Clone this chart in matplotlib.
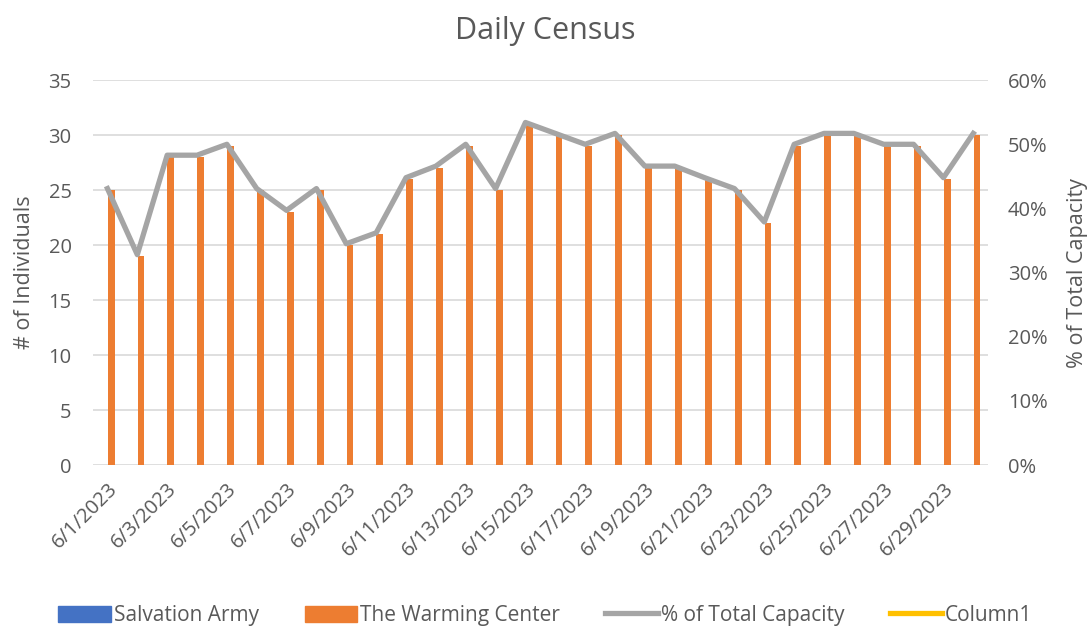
import matplotlib.pyplot as plt
from matplotlib.patches import Patch
from matplotlib.lines import Line2D
from matplotlib.ticker import PercentFormatter

plt.rcParams['font.family'] = ['Open Sans', 'DejaVu Sans']

days = [f"6/{d}/2023" for d in range(1, 31)]
salvation = [0, 0, 0, 0, 0, 0, 0, 0, 0, 0, 0, 0, 0, 0, 0,
             0, 0, 0, 0, 0, 0, 0, 0, 0, 0, 0, 0, 0, 0, 0]
warming = [25, 19, 28, 28, 29, 25, 23, 25, 20, 21, 26, 27, 29, 25, 31,
           30, 29, 30, 27, 27, 26, 25, 22, 29, 30, 30, 29, 29, 26, 30]
capacity = [0.431, 0.328, 0.483, 0.483, 0.500, 0.431, 0.397, 0.431, 0.345, 0.362,
            0.448, 0.466, 0.500, 0.431, 0.534, 0.517, 0.500, 0.517, 0.466, 0.466,
            0.448, 0.431, 0.379, 0.500, 0.517, 0.517, 0.500, 0.500, 0.448, 0.517]

blue = '#4472C4'
orange = '#ED7D31'
gray = '#A5A5A5'
yellow = '#FFC000'
txt = '#595959'
fs = 14.5

fig = plt.figure(figsize=(10.91, 6.26), dpi=100)
ax = fig.add_axes([0.0848, 0.257, 0.821, 0.615])
x = list(range(len(days)))
w = 0.23
ax.bar([i - 0.125 for i in x], salvation, width=w, color=blue, linewidth=0)
ax.bar([i + 0.125 for i in x], warming, width=w, color=orange, linewidth=0)
ax.set_xlim(-0.5, len(days) - 0.5)
ax.set_ylim(0, 35)
ax.set_yticks(range(0, 36, 5))
ax.grid(axis='y', color='#d9d9d9', linewidth=1.2)
ax.set_axisbelow(True)
for s in ax.spines.values():
    s.set_visible(False)
ax.tick_params(length=0, labelsize=fs, colors=txt)
ax.tick_params(axis='y', pad=15)
ax.set_xticks(x[::2])
ax.set_xticklabels(days[::2], rotation=45, ha='right', rotation_mode='anchor')
ax.tick_params(axis='x', pad=10)
ax.set_ylabel('# of Individuals', fontsize=15.5, color=txt, labelpad=10)

ax2 = ax.twinx()
ax2.plot(x, capacity, color=gray, linewidth=3.8, solid_joinstyle='round')
ax2.plot([], [], color=yellow, linewidth=3.8)
ax2.set_ylim(0, 0.6)
ax2.set_yticks([0, 0.1, 0.2, 0.3, 0.4, 0.5, 0.6])
ax2.yaxis.set_major_formatter(PercentFormatter(1.0, decimals=0))
for s in ax2.spines.values():
    s.set_visible(False)
ax2.tick_params(length=0, labelsize=fs, colors=txt, pad=14)
ax2.set_ylabel('% of Total Capacity', fontsize=15.5, color=txt, labelpad=14)

fig.suptitle('Daily Census', fontsize=22, color=txt, y=0.975)

handles = [Patch(color=blue), Patch(color=orange),
           Line2D([], [], color=gray, linewidth=3.8),
           Line2D([], [], color=yellow, linewidth=3.8)]
labels = ['Salvation Army', 'The Warming Center', '% of Total Capacity', 'Column1']
fig.legend(handles, labels, loc='lower center', ncol=4, frameon=False,
           fontsize=15, bbox_to_anchor=(0.5, -0.03), handlelength=2.5,
           handleheight=0.8, handletextpad=0.15, columnspacing=2.2, labelcolor=txt)

fig.savefig('out.png', dpi=100)
